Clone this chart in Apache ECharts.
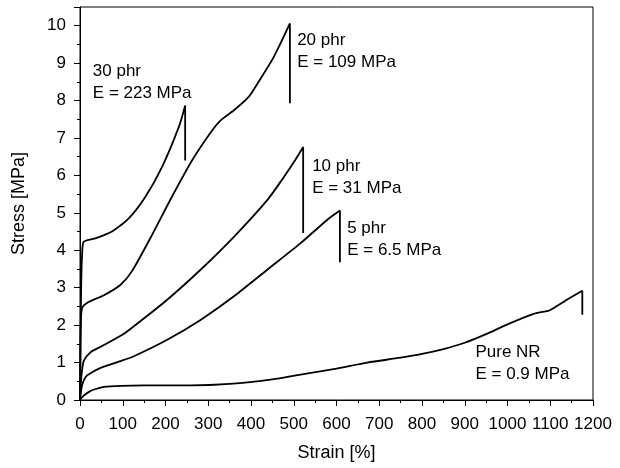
<!DOCTYPE html>
<html>
<head>
<meta charset="utf-8">
<script src="https://cdn.jsdelivr.net/npm/echarts@6/dist/echarts.min.js"></script>
<style>
  html, body { margin: 0; padding: 0; background: #fff; }
  #chart { width: 620px; height: 468px; }
</style>
</head>
<body>
<div id="chart"></div>
<script>
// strain [%], stress [MPa]
var pureNR = [[0,0],[3,0.05],[9,0.12],[20,0.21],[33,0.28],[56,0.35],[95,0.38],[150,0.39],[260,0.39],[350,0.43],[450,0.55],[516,0.68],[600,0.84],[672,1.0],[750,1.13],[800,1.23],[850,1.36],[900,1.53],[950,1.76],[1000,2.02],[1061,2.3],[1085,2.36],[1098,2.39],[1139,2.68],[1175,2.92],[1175,2.28]];
var phr5 = [[0,0],[2,0.2],[5,0.4],[10,0.55],[17,0.66],[48,0.86],[95,1.04],[126,1.17],[204,1.61],[282,2.14],[360,2.77],[438,3.48],[516,4.19],[578,4.81],[608,5.06],[608,3.68]];
var phr10 = [[0,0],[2,0.45],[5,0.81],[9,1.05],[25,1.28],[48,1.42],[100,1.75],[126,1.97],[204,2.68],[282,3.48],[360,4.36],[438,5.34],[477,5.96],[500,6.35],[522,6.76],[522,4.46]];
var phr20 = [[0,0],[1,1.2],[2,2.1],[5,2.46],[17,2.6],[56,2.8],[95,3.08],[122,3.45],[168,4.4],[215,5.43],[262,6.4],[309,7.2],[329,7.47],[360,7.74],[394,8.09],[415,8.45],[453,9.16],[491,10.06],[491,7.93]];
var phr30 = [[0,0],[1,1.5],[3,3.2],[5,3.9],[8,4.22],[20,4.28],[36,4.32],[55,4.4],[75,4.5],[114,4.85],[153,5.43],[192,6.23],[231,7.29],[246,7.87],[246,6.4]];

// annotation anchors: [strain, stress, text]
var notes = [
  [30, 8.48, '30 phr\nE = 223 MPa'],
  [508, 9.31, '20 phr\nE = 109 MPa'],
  [543, 5.96, '10 phr\nE = 31 MPa'],
  [625, 4.3, '5 phr\nE = 6.5 MPa'],
  [925, 0.97, 'Pure NR\nE = 0.9 MPa']
];

var chart = echarts.init(document.getElementById('chart'));
var font = 'Liberation Sans, Arial, sans-serif';

function curve(d) {
  return {
    type: 'line',
    data: d,
    symbol: 'none',
    smooth: 0.25,
    lineStyle: { color: '#000', width: 1.8 },
    z: 3
  };
}

var option = {
  animation: false,
  grid: {
    left: 80, right: 27, top: 7, bottom: 68,
    show: true, borderColor: '#000', borderWidth: 1
  },
  xAxis: {
    type: 'value',
    min: 0, max: 1200, interval: 100,
    name: 'Strain [%]',
    nameLocation: 'middle',
    nameGap: 44,
    nameTextStyle: { color: '#000', fontSize: 18, fontFamily: font },
    axisLine: { lineStyle: { color: '#000', width: 1 } },
    axisTick: { lineStyle: { color: '#000' }, length: 6 },
    minorTick: { show: true, splitNumber: 2, length: 3, lineStyle: { color: '#000' } },
    splitLine: { show: false },
    axisLabel: {
      color: '#000', fontSize: 17, fontFamily: font, margin: 16,
      formatter: function (v) { return String(v); }
    }
  },
  yAxis: {
    type: 'value',
    min: 0, max: 10.5, interval: 1,
    name: 'Stress [MPa]',
    nameLocation: 'middle',
    nameGap: 52,
    nameTextStyle: { color: '#000', fontSize: 18, fontFamily: font },
    axisLine: { show: true, lineStyle: { color: '#000', width: 1 } },
    axisTick: { show: true, lineStyle: { color: '#000' }, length: 6 },
    minorTick: { show: true, splitNumber: 2, length: 3, lineStyle: { color: '#000' } },
    splitLine: { show: false },
    axisLabel: {
      color: '#000', fontSize: 17, fontFamily: font, margin: 14,
      formatter: function (v) { return v > 10 ? '' : String(v); }
    }
  },
  series: [
    curve(pureNR), curve(phr5), curve(phr10), curve(phr20), curve(phr30),
    {
      type: 'scatter',
      symbolSize: 0,
      itemStyle: { opacity: 1 },
      data: notes.map(function (n) { return { value: [n[0], n[1]], name: n[2] }; }),
      label: {
        show: true,
        position: 'right',
        distance: 0,
        align: 'left',
        verticalAlign: 'middle',
        formatter: function (p) { return p.name; },
        color: '#000',
        fontSize: 17,
        lineHeight: 22,
        fontFamily: font
      },
      silent: true,
      z: 4
    }
  ]
};

chart.setOption(option);
</script>
</body>
</html>
